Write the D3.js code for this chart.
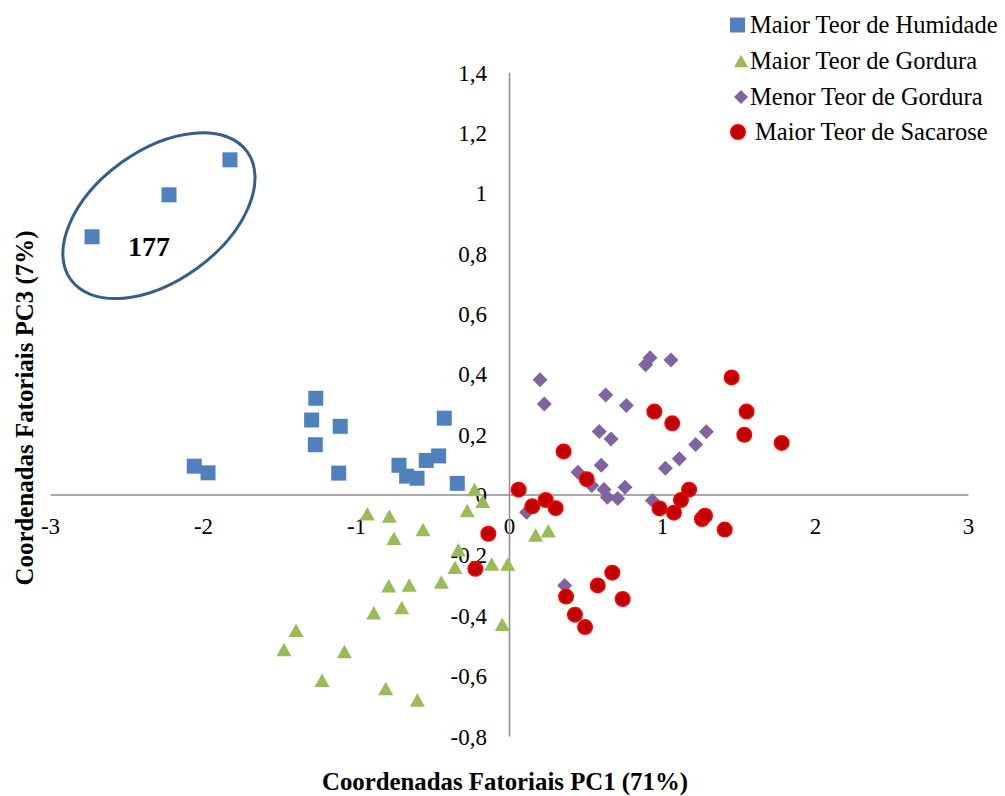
<!DOCTYPE html>
<html>
<head>
<meta charset="utf-8">
<script src="https://cdn.jsdelivr.net/npm/d3@7"></script>
<style>
  html, body { margin: 0; padding: 0; background: #fff; }
  svg { display: block; }
  svg text { font-family: 'Liberation Serif', 'Times New Roman', serif; }
</style>
</head>
<body>
<svg id="chart" width="1005" height="796"></svg>
<script>
// PCA scores (PC1, PC3) per group
const humidadeX = [-2.725, -2.222, -1.824, -2.057, -1.967, -1.263, -1.290, -1.266, -1.103, -1.113, -0.719, -0.669, -0.601, -0.541, -0.460, -0.423, -0.338];
const humidadeY = [0.854, 0.993, 1.109, 0.094, 0.072, 0.319, 0.247, 0.165, 0.226, 0.071, 0.097, 0.061, 0.054, 0.113, 0.128, 0.253, 0.037];

const gorduraX = [-0.225, -0.172, -0.273, -0.926, -0.782, -0.562, -0.752, -0.331, -0.353, -0.113, -0.008, -0.786, -0.652, -0.442, -0.884, -0.701, -0.044, -1.392, -1.471, -1.076, -1.222, -0.806, -0.599, 0.174, 0.257];
const gorduraY = [0.017, -0.022, -0.053, -0.064, -0.071, -0.116, -0.145, -0.183, -0.241, -0.230, -0.230, -0.302, -0.300, -0.290, -0.392, -0.374, -0.430, -0.450, -0.513, -0.520, -0.615, -0.643, -0.681, -0.134, -0.120];

const menorGorduraX = [0.203, 0.231, 0.922, 0.893, 1.059, 0.632, 0.767, 0.590, 0.667, 0.603, 0.451, 0.541, 0.621, 0.643, 0.710, 0.758, 0.937, 1.022, 1.113, 1.220, 1.290, 0.115, 0.364];
const menorGorduraY = [0.380, 0.300, 0.453, 0.430, 0.446, 0.330, 0.295, 0.209, 0.184, 0.097, 0.074, 0.030, 0.017, -0.009, -0.013, 0.024, -0.020, 0.087, 0.119, 0.166, 0.208, -0.059, -0.301];

const sacaroseX = [1.455, 0.950, 1.067, 1.553, 1.538, 1.782, 0.357, 0.508, 0.063, 0.152, 0.240, 0.305, 1.177, 1.124, 0.984, 1.078, 1.261, 1.281, 1.410, -0.135, -0.220, 0.675, 0.580, 0.373, 0.743, 0.431, 0.497];
const sacaroseY = [0.388, 0.275, 0.236, 0.275, 0.198, 0.171, 0.143, 0.051, 0.016, -0.039, -0.018, -0.045, 0.016, -0.018, -0.046, -0.060, -0.081, -0.070, -0.116, -0.130, -0.246, -0.259, -0.301, -0.338, -0.346, -0.398, -0.439];

const seriesNames = ["Maior Teor de Humidade", "Maior Teor de Gordura", "Menor Teor de Gordura", "Maior Teor de Sacarose"];

const xTicks = [-3, -2, -1, 0, 1, 2, 3];
const yTicks = [1.4, 1.2, 1, 0.8, 0.6, 0.4, 0.2, 0, -0.2, -0.4, -0.6, -0.8];

const xTitle = "Coordenadas Fatoriais PC1 (71%)";
const yTitle = "Coordenadas Fatoriais PC3 (7%)";

// highlighted outlier group
const outlierLabel = "177";
const outlierCenter = [-2.288, 0.924];
const outlierLabelPos = [-2.49, 0.79];

const SERIF = "'Liberation Serif', 'Times New Roman', serif";

const svg = d3.select("#chart");

const x = d3.scaleLinear().domain([-3, 3]).range([50, 968]);
const y = d3.scaleLinear().domain([-0.8, 1.4]).range([736, 72]);

const ptLocale = d3.formatLocale({ decimal: ",", thousands: ".", grouping: [3], currency: ["", ""], minus: "-" });
const fmt = ptLocale.format("~g");

const axisColor = "#8c8c8c";

// horizontal axis through PC3 = 0
const xAxis = d3.axisBottom(x).tickValues(xTicks).tickFormat(fmt).tickSize(0).tickPadding(0);
const gx = svg.append("g").attr("transform", `translate(0,${y(0)})`).call(xAxis);
gx.attr("font-family", null);
gx.select(".domain").attr("stroke", axisColor).attr("stroke-width", 1.5);
gx.selectAll(".tick text")
  .style("font-family", SERIF)
  .attr("font-size", 23)
  .attr("fill", "#000")
  .attr("dy", null)
  .attr("y", 39);

// vertical axis through PC1 = 0
const yAxis = d3.axisLeft(y).tickValues(yTicks).tickFormat(fmt).tickSize(0).tickPadding(0);
const gy = svg.append("g").attr("transform", `translate(${x(0)},0)`).call(yAxis);
gy.attr("font-family", null);
gy.select(".domain").attr("stroke", axisColor).attr("stroke-width", 1.5);
gy.selectAll(".tick text")
  .style("font-family", SERIF)
  .attr("font-size", 23)
  .attr("fill", "#000")
  .attr("x", -22)
  .attr("dy", "0.35em");

// marker shapes, centred on their bounding box
const markers = {
  square: s => `M${-s/2},${-s/2}h${s}v${s}h${-s}Z`,
  triangle: s => `M0,${-s*0.45}L${s/2},${s*0.45}L${-s/2},${s*0.45}Z`,
  diamond: s => `M0,${-s/2}L${s/2},0L0,${s/2}L${-s/2},0Z`
};

const groups = [
  { name: seriesNames[0], xs: humidadeX, ys: humidadeY, shape: "square", fill: "#4F81BD" },
  { name: seriesNames[1], xs: gorduraX, ys: gorduraY, shape: "triangle", fill: "#9BBB59" },
  { name: seriesNames[2], xs: menorGorduraX, ys: menorGorduraY, shape: "diamond", fill: "#8064A2" },
  { name: seriesNames[3], xs: sacaroseX, ys: sacaroseY, shape: "circle", fill: "#C00000", stroke: "#FF0000" }
];

const plot = svg.append("g");
groups.forEach(g => {
  const pts = g.xs.map((v, i) => [v, g.ys[i]]);
  const layer = plot.append("g");
  if (g.shape === "circle") {
    layer.selectAll("circle").data(pts).join("circle")
      .attr("cx", d => x(d[0])).attr("cy", d => y(d[1]))
      .attr("r", 7.3)
      .attr("fill", g.fill).attr("stroke", g.stroke).attr("stroke-width", 1.4);
  } else {
    layer.selectAll("path").data(pts).join("path")
      .attr("transform", d => `translate(${x(d[0])},${y(d[1])})`)
      .attr("d", markers[g.shape](15))
      .attr("fill", g.fill);
  }
});

// outlier ellipse and label
svg.append("ellipse")
  .attr("transform", `translate(${x(outlierCenter[0])},${y(outlierCenter[1])}) rotate(-36)`)
  .attr("rx", 109).attr("ry", 65)
  .attr("fill", "none").attr("stroke", "#385D8A").attr("stroke-width", 3);

svg.append("text")
  .attr("x", x(outlierLabelPos[0])).attr("y", y(outlierLabelPos[1]))
  .style("font-family", SERIF)
  .attr("font-size", 28).attr("font-weight", "bold")
  .text(outlierLabel);

// axis titles
svg.append("text")
  .attr("x", 505).attr("y", 790)
  .attr("text-anchor", "middle")
  .style("font-family", SERIF)
  .attr("font-size", 26).attr("font-weight", "bold")
  .attr("textLength", 366).attr("lengthAdjust", "spacingAndGlyphs")
  .text(xTitle);

svg.append("text")
  .attr("transform", "translate(33,408) rotate(-90)")
  .attr("text-anchor", "middle")
  .style("font-family", SERIF)
  .attr("font-size", 26).attr("font-weight", "bold")
  .attr("textLength", 355).attr("lengthAdjust", "spacingAndGlyphs")
  .text(yTitle);

// legend
const legend = svg.append("g");
const rowY = [25, 61, 97, 132];
groups.forEach((g, i) => {
  const row = legend.append("g").attr("transform", `translate(0,${rowY[i]})`);
  if (g.shape === "circle") {
    row.append("circle").attr("cx", 738).attr("cy", 0).attr("r", 7.3)
      .attr("fill", g.fill).attr("stroke", g.stroke).attr("stroke-width", 1.4);
  } else {
    const cx = g.shape === "square" ? 737.5 : 741;
    row.append("path").attr("transform", `translate(${cx},0)`)
      .attr("d", markers[g.shape](g.shape === "square" ? 15 : 14))
      .attr("fill", g.fill);
  }
  row.append("text")
    .attr("x", g.shape === "circle" ? 755 : 750).attr("y", 0).attr("dy", "0.33em")
    .style("font-family", SERIF)
    .attr("font-size", 24.5)
    .text(g.name);
});
</script>
</body>
</html>
